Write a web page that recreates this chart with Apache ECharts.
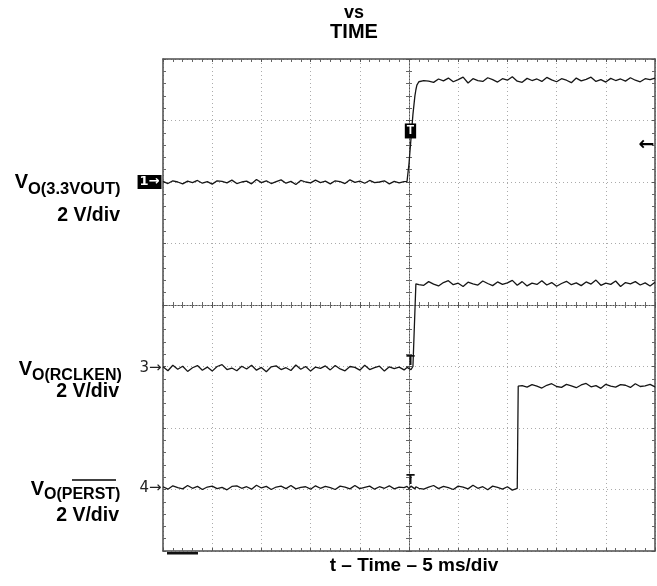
<!DOCTYPE html>
<html>
<head>
<meta charset="utf-8">
<script src="https://cdn.jsdelivr.net/npm/echarts@6/dist/echarts.min.js"></script>
<style>
  html, body { margin: 0; padding: 0; background: #ffffff; }
  #chart { width: 657px; height: 586px; }
</style>
</head>
<body>
<div id="chart"></div>
<script>
// Sample times (ms) shared by all three captured channels; extra samples sit on the edges.
const timeMs = [
  -25, -24.5, -24, -23.5, -23, -22.5, -22, -21.5, -21, -20.5,
  -20, -19.5, -19, -18.5, -18, -17.5, -17, -16.5, -16, -15.5,
  -15, -14.5, -14, -13.5, -13, -12.5, -12, -11.5, -11, -10.5,
  -10, -9.5, -9, -8.5, -8, -7.5, -7, -6.5, -6, -5.5,
  -5, -4.5, -4, -3.5, -3, -2.5, -2, -1.5, -1, -0.5,
  -0.2, 0, 0.2, 0.4, 0.6, 0.7, 0.8, 1.0, 1.2,
  1.5, 2, 2.5, 3, 3.5, 4, 4.5, 5, 5.5, 6, 6.5, 7, 7.5, 8, 8.5, 9, 9.5, 10, 10.5, 11,
  11.1,
  11.5, 12, 12.5, 13, 13.5, 14, 14.5, 15, 15.5, 16, 16.5, 17, 17.5, 18, 18.5, 19,
  19.5, 20, 20.5, 21, 21.5, 22, 22.5, 23, 23.5, 24, 24.5, 25
];

// Channel 1: V_O(3.3VOUT), volts
const ch1Volts = [
  0.02, -0.05, 0.04, 0.00, -0.06, 0.03, -0.02, 0.05, -0.04, 0.01,
  -0.07, 0.04, 0.02, -0.03, 0.06, -0.05, 0.00, 0.03, -0.06, 0.08,
  -0.02, 0.04, -0.05, 0.01, 0.07, -0.04, 0.02, -0.08, 0.05, 0.00,
  -0.03, 0.06, -0.02, 0.03, -0.06, 0.04, 0.01, -0.05, 0.07, -0.01,
  0.03, -0.04, 0.05, -0.02, 0.00, 0.04, -0.06, 0.02, -0.03, 0.01,
  0.02, 0.60, 1.40, 2.20, 2.80, 3.00, 3.15, 3.26, 3.32,
  3.30, 3.28, 3.24, 3.35, 3.29, 3.38, 3.26, 3.33, 3.41, 3.22,
  3.36, 3.30, 3.27, 3.39, 3.33, 3.25, 3.36, 3.31, 3.42, 3.28,
  3.33,
  3.24, 3.37, 3.30, 3.35, 3.27, 3.40, 3.32, 3.26, 3.36, 3.31,
  3.23, 3.38, 3.29, 3.34, 3.41, 3.27, 3.33, 3.25, 3.37, 3.30,
  3.35, 3.28, 3.39, 3.31, 3.26, 3.36, 3.33, 3.38
];

// Channel 3: V_O(RCLKEN), volts
const ch3Volts = [
  0.05, -0.08, 0.10, -0.03, 0.07, -0.10, 0.02, 0.09, -0.06, 0.04,
  -0.09, 0.06, 0.12, -0.04, 0.01, -0.08, 0.07, -0.02, 0.10, -0.06,
  0.03, -0.11, 0.05, 0.08, -0.04, 0.02, -0.07, 0.11, -0.03, 0.06,
  -0.09, 0.04, 0.00, 0.08, -0.05, 0.09, -0.02, -0.08, 0.06, 0.03,
  -0.06, 0.10, -0.04, 0.02, 0.07, -0.09, 0.05, -0.01, 0.04, -0.05,
  0.03, 0.08, -0.04, 0.06, 0.02, 2.75, 2.80, 2.72, 2.78,
  2.70, 2.82, 2.74, 2.68, 2.79, 2.85, 2.72, 2.77, 2.66, 2.80,
  2.75, 2.71, 2.84, 2.76, 2.69, 2.81, 2.73, 2.78, 2.86, 2.70,
  2.76,
  2.82, 2.68, 2.77, 2.73, 2.85, 2.71, 2.79, 2.67, 2.76, 2.83,
  2.72, 2.78, 2.69, 2.81, 2.74, 2.87, 2.70, 2.77, 2.73, 2.84,
  2.66, 2.79, 2.75, 2.82, 2.71, 2.78, 2.68, 2.80
];

// Channel 4: V_O(PERST#), volts
const ch4Volts = [
  0.03, -0.05, 0.06, 0.00, -0.04, 0.07, -0.02, 0.04, -0.06, 0.02,
  0.05, -0.03, 0.01, -0.07, 0.04, 0.06, -0.02, 0.03, -0.05, 0.08,
  -0.01, 0.04, -0.06, 0.02, 0.05, -0.03, 0.07, -0.04, 0.01, 0.03,
  -0.05, 0.06, -0.02, 0.04, 0.00, -0.06, 0.05, 0.02, -0.04, 0.07,
  -0.03, 0.01, 0.05, -0.05, 0.03, -0.02, 0.06, -0.04, 0.02, 0.00,
  0.04, -0.03, 0.05, 0.01, -0.04, 0.03, 0.06, -0.02, 0.04,
  -0.05, 0.02, 0.07, -0.03, 0.04, 0.00, -0.06, 0.05, 0.02, -0.04,
  0.08, -0.02, 0.03, -0.07, 0.05, 0.01, -0.05, 0.03, -0.08, -0.02,
  3.30,
  3.32, 3.27, 3.35, 3.30, 3.24, 3.33, 3.38, 3.29, 3.26, 3.36,
  3.31, 3.25, 3.34, 3.39, 3.28, 3.32, 3.23, 3.36, 3.30, 3.27,
  3.35, 3.33, 3.26, 3.38, 3.29, 3.31, 3.36, 3.28
];

// Screen settings: 10 x 5 ms horizontally, 8 divisions vertically at 2 V/div
const timeRangeMs = [-25, 25];
const msPerDiv = 5;
const divRange = [-4, 4];
const voltsPerDiv = 2;

// Ground reference of each channel, in divisions from screen centre
const ch1GroundDiv = 2;
const ch3GroundDiv = -1.03;
const ch4GroundDiv = -2.97;

// Trigger point markers and trigger level
const triggerMarkMs = 0.15;
const ch1TriggerMarkVolts = 1.66;
const ch3TriggerMarkVolts = 0.24;
const ch4TriggerMarkVolts = 0.24;
const ch1TriggerLevelVolts = 1.2;

const TRACE = '#161616';
const BORDER = '#4d4d4d';
const SANS = '"Liberation Sans", Arial, Helvetica, sans-serif';

const toDiv = (ground, v) => ground + v / voltsPerDiv;

const gridDots = { show: true, lineStyle: { color: '#ababab', width: 1, type: [1, 3] } };

function timeAxis(position, offset, inside, lineStyle, grid) {
  return {
    type: 'value', min: timeRangeMs[0], max: timeRangeMs[1], interval: msPerDiv,
    position: position, offset: offset,
    axisLine: { show: true, onZero: false, lineStyle: lineStyle },
    axisTick: { show: true, inside: inside, length: 3, lineStyle: { color: '#555', width: 1 } },
    minorTick: { show: true, splitNumber: 5, length: 3, lineStyle: { color: '#666', width: 1 } },
    axisLabel: { show: false },
    splitLine: grid ? gridDots : { show: false },
    minorSplitLine: { show: false }
  };
}

function divAxis(position, offset, inside, lineStyle, grid) {
  return {
    type: 'value', min: divRange[0], max: divRange[1], interval: 1,
    position: position, offset: offset,
    axisLine: { show: true, onZero: false, lineStyle: lineStyle },
    axisTick: { show: true, inside: inside, length: 3, lineStyle: { color: '#555', width: 1 } },
    minorTick: { show: true, splitNumber: 5, length: 3, lineStyle: { color: '#666', width: 1 } },
    axisLabel: { show: false },
    splitLine: grid ? gridDots : { show: false },
    minorSplitLine: { show: false }
  };
}

const borderLine = { color: BORDER, width: 1.5 };
const centreLine = { color: '#555', width: 1, type: [1, 2] };

function invisibleMark(coord, label) {
  return {
    coord: coord, symbol: 'rect', symbolSize: [1, 1],
    itemStyle: { color: 'rgba(0,0,0,0)' },
    label: Object.assign({ show: true }, label)
  };
}

function channelMarker(text, boxed) {
  return boxed
    ? { formatter: text, position: 'left', distance: 1, color: '#fff', backgroundColor: '#000',
        fontFamily: '"DejaVu Sans", sans-serif', fontWeight: 'bold', fontSize: 13, padding: [1, 2, 0, 2] }
    : { formatter: text, position: 'left', distance: 1, color: '#222',
        fontFamily: '"DejaVu Sans", sans-serif', fontSize: 15 };
}

const traceDefs = [
  { name: 'CH1', volts: ch1Volts, ground: ch1GroundDiv,
    marks: [
      invisibleMark([timeRangeMs[0], ch1GroundDiv], channelMarker('1→', true)),
      invisibleMark([triggerMarkMs, toDiv(ch1GroundDiv, ch1TriggerMarkVolts)],
        { formatter: 'T', position: 'inside', color: '#fff', backgroundColor: '#000',
          fontFamily: SANS, fontWeight: 'bold', fontSize: 12, padding: [2, 2, 1, 2] }),
      invisibleMark([timeRangeMs[1], toDiv(ch1GroundDiv, ch1TriggerLevelVolts)],
        { formatter: '←', position: 'left', distance: 0, color: '#000',
          fontFamily: '"DejaVu Sans", sans-serif', fontWeight: 'bold', fontSize: 19 })
    ] },
  { name: 'CH3', volts: ch3Volts, ground: ch3GroundDiv,
    marks: [
      invisibleMark([timeRangeMs[0], ch3GroundDiv], channelMarker('3→', false)),
      invisibleMark([triggerMarkMs, toDiv(ch3GroundDiv, ch3TriggerMarkVolts)],
        { formatter: 'T', position: 'inside', color: '#111', fontFamily: SANS, fontWeight: 'bold', fontSize: 14 })
    ] },
  { name: 'CH4', volts: ch4Volts, ground: ch4GroundDiv,
    marks: [
      invisibleMark([timeRangeMs[0], ch4GroundDiv], channelMarker('4→', false)),
      invisibleMark([triggerMarkMs, toDiv(ch4GroundDiv, ch4TriggerMarkVolts)],
        { formatter: 'T', position: 'inside', color: '#111', fontFamily: SANS, fontWeight: 'bold', fontSize: 14 })
    ] }
];

function txt(x, y, text, size, align) {
  return {
    type: 'text', x: x, y: y, silent: true,
    style: {
      text: text, font: 'bold ' + size + 'px ' + SANS, fill: '#000',
      align: align, verticalAlign: 'middle', textAlign: align, textVerticalAlign: 'middle'
    }
  };
}

const chart = echarts.init(document.getElementById('chart'), null, { renderer: 'canvas' });
chart.setOption({
  animation: false,
  backgroundColor: '#ffffff',
  grid: { left: 163, top: 59, width: 492, height: 492, show: false, containLabel: false, outerBoundsMode: 'none' },
  xAxis: [
    timeAxis('bottom', 0, true, borderLine, true),
    timeAxis('top', 0, true, borderLine, false),
    timeAxis('bottom', -246, true, centreLine, false),
    timeAxis('bottom', -246, false, centreLine, false)
  ],
  yAxis: [
    divAxis('left', 0, true, borderLine, true),
    divAxis('right', 0, true, borderLine, false),
    divAxis('left', -246, true, centreLine, false),
    divAxis('left', -246, false, centreLine, false)
  ],
  series: traceDefs.map(function (tr) {
    return {
      name: tr.name, type: 'line', xAxisIndex: 0, yAxisIndex: 0,
      data: timeMs.map(function (t, i) { return [t, toDiv(tr.ground, tr.volts[i])]; }),
      showSymbol: false, symbol: 'none', silent: true, z: 5,
      lineStyle: { color: TRACE, width: 1.3 },
      markPoint: { silent: true, animation: false, z: 6, data: tr.marks }
    };
  }),
  graphic: [
    txt(354, 13, 'vs', 18, 'center'),
    txt(354, 32, 'TIME', 20, 'center'),

    txt(28, 182, 'V', 20, 'right'),
    txt(28, 189, 'O(3.3VOUT)', 16.5, 'left'),
    txt(120, 216, '2 V/div', 19.5, 'right'),

    txt(32, 369, 'V', 20, 'right'),
    txt(32, 376, 'O(RCLKEN)', 16, 'left'),
    txt(119, 392, '2 V/div', 19.5, 'right'),

    txt(44, 489, 'V', 20, 'right'),
    txt(44, 495, 'O(PERST)', 16, 'left'),
    { type: 'line', silent: true, shape: { x1: 72, y1: 480, x2: 116, y2: 480 },
      style: { stroke: '#000', lineWidth: 1.3 } },
    txt(119, 516, '2 V/div', 19.5, 'right'),

    txt(414, 566, 't – Time – 5 ms/div', 19, 'center'),

    { type: 'rect', silent: true, shape: { x: 167, y: 552, width: 31, height: 2.5 },
      style: { fill: '#111' } }
  ]
});
</script>
</body>
</html>
